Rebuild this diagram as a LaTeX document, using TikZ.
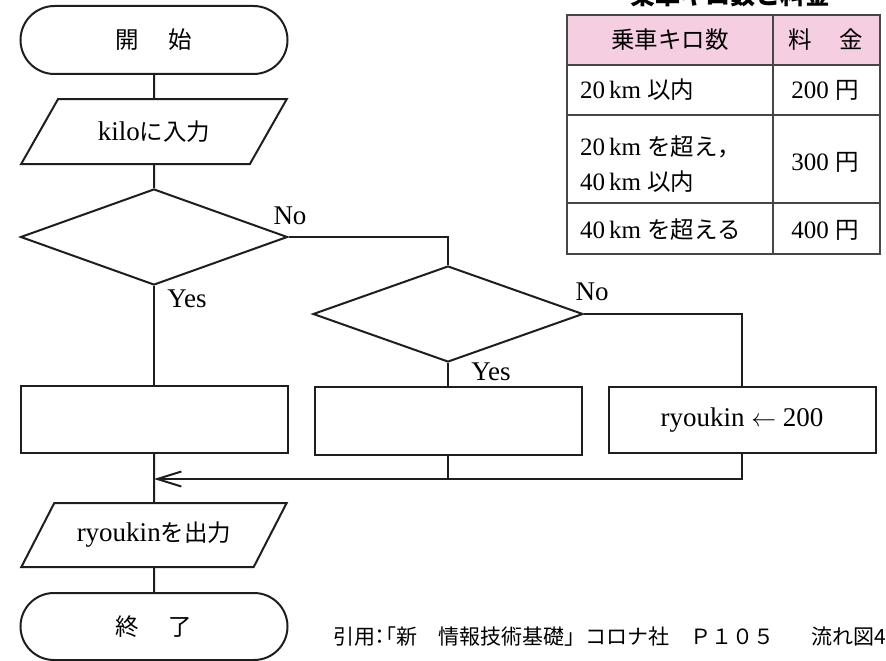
\documentclass[tikz,border=0pt]{standalone}
\usepackage{fontspec}
\setmainfont{Liberation Serif}
\newfontfamily\jpfont{Noto Sans CJK JP}
\usetikzlibrary{shapes.geometric,shapes.misc,arrows.meta}
\newcommand\J[1]{{\jpfont\fontsize{23.5}{27}\selectfont #1}}
\definecolor{hdrpink}{RGB}{246,206,226}
\definecolor{lnc}{RGB}{30,30,30}
\definecolor{tblc}{RGB}{70,70,70}
\begin{document}
\begin{tikzpicture}[x=1pt,y=-1pt,
  line width=2pt, draw=lnc,
  every node/.style={font=\fontsize{27}{31}\selectfont},
  term/.style={draw=lnc, line width=2pt, rounded rectangle, minimum width=267pt, minimum height=68pt, inner sep=0pt},
  io/.style={draw=lnc, line width=2pt, trapezium, trapezium left angle=45, trapezium right angle=135, trapezium stretches=true, minimum width=266pt, minimum height=65pt, inner sep=0pt},
  dec/.style={draw=lnc, line width=2pt, diamond, minimum width=267pt, minimum height=96pt, inner sep=0pt},
  proc/.style={draw=lnc, line width=2pt, rectangle, minimum width=267pt, minimum height=67pt, inner sep=0pt},
  lbl/.style={inner sep=0pt, font=\fontsize{27}{31}\selectfont},
  tline/.style={draw=tblc, line width=1.4pt},
  ttext/.style={inner sep=0pt, font=\fontsize{25}{29}\selectfont},
  flowline/.style={draw=lnc, line width=2pt}
]
\useasboundingbox (0,0) rectangle (886,661);

% flowchart nodes
\node[term] (start) at (154,40) {\J{開}\hspace{30pt}\J{始}};
\node[io] (in) at (154,131.5) {kilo\J{に入力}};
\node[dec] (d1) at (154,237) {};
\node[dec, minimum width=270pt] (d2) at (448,314) {};
\node[proc] (b1) at (154,419.5) {};
\node[proc, minimum height=68pt] (b2) at (448,421) {};
\node[proc, minimum height=66pt] (b3) at (742,420) {ryoukin $\leftarrow$ 200};
\node[io, minimum height=64pt] (out) at (154,535) {ryoukin\J{を出力}};
\node[term, minimum height=67pt] (end) at (154,626.5) {\J{終}\hspace{30pt}\J{了}};

% labels
\node[lbl] (no1) at (290,216) {No};
\node[lbl] (yes1) at (187,299) {Yes};
\node[lbl] (no2) at (592,292) {No};
\node[lbl] (yes2) at (491,372) {Yes};

\coordinate (mL) at (154,479);

% connectors
\draw[flowline] (start) -- (in);
\draw[flowline] (in) -- (d1);
\draw[flowline] (d1.east) -| (d2.north);
\draw[flowline] (d1.south) -- (b1.north);
\draw[flowline] (d2.south) -- (b2.north);
\draw[flowline] (d2.east) -| (b3.north);
\draw[flowline] (b1.south) -- (out.north);
\draw[flowline] (out.south) -- (end.north);
\draw[flowline] (b2.south) -- (b2.south |- mL);
\draw[flowline, -{Straight Barb[length=24pt,width=15pt]}] (b3.south) |- (mL);

% table
\node[inner sep=0pt, font=\jpfont\bfseries\fontsize{25}{30}\selectfont] (title) at (730,-5) {乗車キロ数と料金};
\fill[hdrpink] (567,15) rectangle (880,65);
\draw[tline] (567,15) rectangle (880,254);
\draw[tline] (567,65) -- (880,65);
\draw[tline] (567,115) -- (880,115);
\draw[tline] (567,203) -- (880,203);
\draw[tline] (773,15) -- (773,254);

\node[ttext] (h1) at (670,40) {\J{乗車キロ数}};
\node[ttext] (h2) at (826,40) {\J{料}\hspace{28pt}\J{金}};
\node[ttext, anchor=west] (r1) at (579,90) {20\,km \J{以内}};
\node[ttext] (p1) at (825,90) {200 \J{円}};
\node[ttext, anchor=west] (r2a) at (579,147) {20\,km \J{を超え，}};
\node[ttext, anchor=west] (r2b) at (579,182) {40\,km \J{以内}};
\node[ttext] (p2) at (825,162) {300 \J{円}};
\node[ttext, anchor=west] (r3) at (579,230) {40\,km \J{を超える}};
\node[ttext] (p3) at (825,230) {400 \J{円}};

% citation
\node[anchor=west, inner sep=0pt, font=\jpfont\fontsize{21}{24}\selectfont] (cite) at (332,637) {引用{\addfontfeature{RawFeature=+halt}：「}新　情報技術基礎」コロナ社　Ｐ１０５\hspace{38pt}流れ図4};
\end{tikzpicture}
\end{document}
